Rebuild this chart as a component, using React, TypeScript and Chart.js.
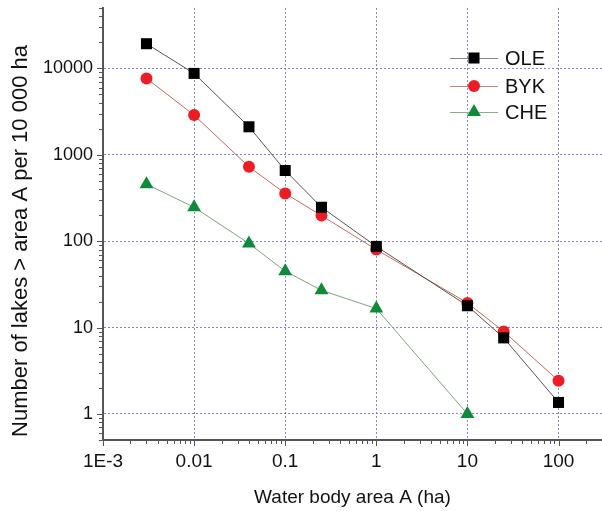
import React, { useEffect, useRef } from 'react';
import { Chart, registerables } from 'chart.js';

Chart.register(...registerables);

// ---- data ----
const areaX = [0.003, 0.01, 0.04, 0.1, 0.25, 1, 10, 25, 100];
const oleValues = [19300, 8750, 2110, 658, 247, 87, 17.9, 7.6, 1.36];
const bykValues = [7660, 2880, 726, 357, 198, 80, 19.3, 9.0, 2.43];
const cheX = [0.003, 0.01, 0.04, 0.1, 0.25, 1, 10];
const cheValues = [457, 247, 94, 45, 27, 16.6, 1.0];
const seriesNames = ['OLE', 'BYK', 'CHE'];

const xTickValues = [0.001, 0.01, 0.1, 1, 10, 100];
const xTickLabels = ['1E-3', '0.01', '0.1', '1', '10', '100'];
const yTickValues = [1, 10, 100, 1000, 10000];
const yTickLabels = ['1', '10', '100', '1000', '10000'];

const xTitle = 'Water body area A (ha)';
const yTitle = 'Number of lakes > area A per 10 000 ha';

const FONT = 'Arial, "Liberation Sans", sans-serif';
const markerColors = ['#000000', '#ee1c25', '#0f8a3a'];
const lineColors = ['#555555', '#c06a5e', '#7ea27e'];
const legendLineColors = ['#888888', '#c88070', '#86b086'];
const pointStyles = ['rect', 'circle', 'triangle'];
const pointRadii = [7.8, 6, 8];

function drawMarker(ctx: CanvasRenderingContext2D, style: string, x: number, y: number, r: number) {
  ctx.beginPath();
  if (style === 'rect') {
    const s = Math.SQRT1_2 * r;
    ctx.rect(x - s, y - s, 2 * s, 2 * s);
  } else if (style === 'circle') {
    ctx.arc(x, y, r, 0, Math.PI * 2);
  } else {
    ctx.moveTo(x, y - r);
    ctx.lineTo(x + r * Math.sin((2 * Math.PI) / 3), y + r / 2);
    ctx.lineTo(x - r * Math.sin((2 * Math.PI) / 3), y + r / 2);
    ctx.closePath();
  }
  ctx.fill();
}

const minorTicksPlugin = {
  id: 'minorTicks',
  afterDraw(chart: any) {
    const ctx = chart.ctx as CanvasRenderingContext2D;
    const xs = chart.scales.x;
    const ys = chart.scales.y;
    ctx.save();
    ctx.strokeStyle = '#555555';
    ctx.lineWidth = 1;
    ctx.beginPath();
    for (let e = -3; e <= 3; e++) {
      for (let m = 1; m <= 9; m++) {
        const v = m * Math.pow(10, e);
        if (v < xs.min * 0.9999 || v > xs.max * 1.0001) continue;
        const px = Math.round(xs.getPixelForValue(v)) + 0.5;
        const len = m === 1 ? 6 : 4;
        ctx.moveTo(px, xs.top);
        ctx.lineTo(px, xs.top + len);
      }
    }
    for (let e = -1; e <= 5; e++) {
      for (let m = 1; m <= 9; m++) {
        const v = m * Math.pow(10, e);
        if (v < ys.min * 0.9999 || v > ys.max * 1.0001) continue;
        const py = Math.round(ys.getPixelForValue(v)) + 0.5;
        const len = m === 1 ? 6 : 4;
        ctx.moveTo(ys.right, py);
        ctx.lineTo(ys.right - len, py);
      }
    }
    ctx.stroke();

    // y axis title
    ctx.fillStyle = '#111111';
    ctx.font = `22px ${FONT}`;
    ctx.textAlign = 'center';
    ctx.textBaseline = 'middle';
    ctx.translate(20.5, 241);
    ctx.rotate(-Math.PI / 2);
    ctx.fillText(yTitle, 0, 0);
    ctx.restore();
  },
};

const legendPlugin = {
  id: 'customLegend',
  afterDatasetsDraw(chart: any) {
    const ctx = chart.ctx as CanvasRenderingContext2D;
    const ca = chart.chartArea;
    const x0 = ca.right - 152;
    const rows = [ca.top + 50, ca.top + 78, ca.top + 104];
    ctx.save();
    ctx.font = `20px ${FONT}`;
    ctx.textBaseline = 'middle';
    ctx.textAlign = 'left';
    seriesNames.forEach((name, i) => {
      const y = rows[i];
      ctx.strokeStyle = legendLineColors[i];
      ctx.lineWidth = 1;
      ctx.beginPath();
      ctx.moveTo(x0, y + 0.5);
      ctx.lineTo(x0 + 48, y + 0.5);
      ctx.stroke();
      ctx.fillStyle = markerColors[i];
      drawMarker(ctx, pointStyles[i], x0 + 24, y, pointRadii[i]);
      ctx.fillStyle = '#111111';
      ctx.fillText(name, x0 + 55, y + 1);
    });
    ctx.restore();
  },
};

export default function App() {
  const canvasRef = useRef<HTMLCanvasElement | null>(null);

  useEffect(() => {
    if (!canvasRef.current) return;
    const seriesX = [areaX, areaX, cheX];
    const seriesY = [oleValues, bykValues, cheValues];
    const datasets = seriesNames.map((name, i) => ({
      label: name,
      data: seriesX[i].map((x, j) => ({ x, y: seriesY[i][j] })),
      borderColor: lineColors[i],
      borderWidth: 1,
      backgroundColor: markerColors[i],
      pointBackgroundColor: markerColors[i],
      pointBorderColor: markerColors[i],
      pointBorderWidth: 0,
      pointStyle: pointStyles[i] as any,
      pointRadius: pointRadii[i],
      showLine: true,
      tension: 0,
    }));

    const chart = new Chart(canvasRef.current, {
      type: 'scatter',
      data: { datasets },
      plugins: [minorTicksPlugin, legendPlugin],
      options: {
        animation: false,
        responsive: false,
        maintainAspectRatio: false,
        layout: { autoPadding: false, padding: { top: 8, right: 0, left: 0, bottom: 0 } },
        plugins: {
          legend: { display: false },
          tooltip: { enabled: false },
        },
        scales: {
          x: {
            type: 'logarithmic',
            position: 'bottom',
            min: 0.001,
            max: 300,
            afterBuildTicks: (scale: any) => {
              scale.ticks = xTickValues.map((v) => ({ value: v }));
            },
            afterFit: (scale: any) => {
              scale.height = 71;
              scale.paddingLeft = 0;
              scale.paddingRight = 0;
            },
            ticks: {
              autoSkip: false,
              maxRotation: 0,
              padding: 10,
              color: '#111111',
              font: { family: FONT, size: 19 },
              callback: (value: any) => {
                const idx = xTickValues.findIndex((v) => Math.abs(v - value) / v < 1e-6);
                return idx >= 0 ? xTickLabels[idx] : '';
              },
            },
            grid: {
              color: 'rgba(110,110,190,0.85)',
              lineWidth: 1,
              drawTicks: false,
            },
            border: { display: true, color: '#555555', width: 2, dash: [2, 2] },
            title: {
              display: true,
              text: xTitle,
              color: '#111111',
              font: { family: FONT, size: 19 },
              padding: { top: 0, bottom: 2 },
            },
          },
          y: {
            type: 'logarithmic',
            position: 'left',
            min: 0.5,
            max: 50000,
            afterBuildTicks: (scale: any) => {
              scale.ticks = yTickValues.map((v) => ({ value: v }));
            },
            afterFit: (scale: any) => {
              scale.width = 103;
              scale.paddingTop = 0;
              scale.paddingBottom = 0;
            },
            ticks: {
              autoSkip: false,
              padding: 10,
              color: '#111111',
              font: { family: FONT, size: 18 },
              callback: (value: any) => {
                const idx = yTickValues.findIndex((v) => Math.abs(v - value) / v < 1e-6);
                return idx >= 0 ? yTickLabels[idx] : '';
              },
            },
            grid: {
              color: 'rgba(110,110,190,0.85)',
              lineWidth: 1,
              drawTicks: false,
            },
            border: { display: true, color: '#555555', width: 2, dash: [2, 2] },
            title: { display: false },
          },
        },
      },
    });
    return () => chart.destroy();
  }, []);

  return (
    <div style={{ position: 'absolute', left: 0, top: 0, width: 602, height: 511 }}>
      <canvas ref={canvasRef} width={602} height={511} style={{ display: 'block' }} />
    </div>
  );
}
